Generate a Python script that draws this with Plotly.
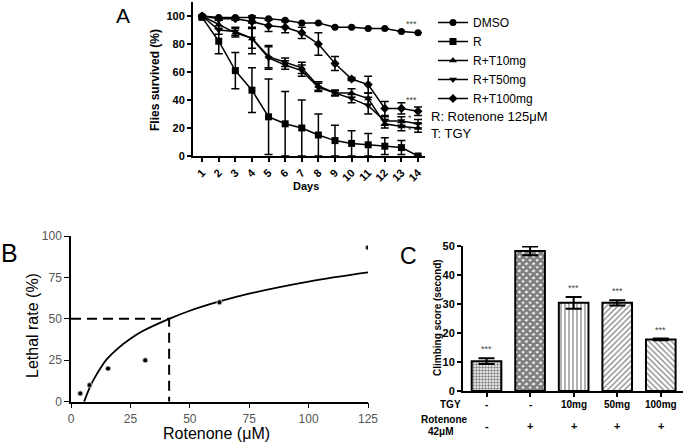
import plotly.graph_objects as go

W, H = 685, 443
def PX(x): return x / W
def PY(y): return 1 - y / H

FONT = "Arial, Liberation Sans, sans-serif"

# ---------------- Panel A data ----------------
days = list(range(1, 15))
dmso = [100, 99, 99, 99, 98, 97, 95, 95, 92, 92, 91, 91, 89, 88]
dmso_err = [0, 0, 0, 0, 0, 0, 0, 0, 0, 0, 0, 0, 0, 0]
r_only = [99, 82, 61, 47, 28, 23, 20, 15, 11, 9, 8, 7, 6, 0]
r_only_err = [1, 9, 13, 16, 27, 23, 20, 15, 11, 9, 8, 6, 5, 0]
r_t10 = [100, 94, 88, 84, 71, 67, 63, 50, 45, 45, 41, 23, 21, 20]
r_t10_err = [0, 3, 3, 7, 8, 3, 4, 3, 2, 3, 4, 3, 3, 3]
r_t50 = [100, 90, 89, 84, 70, 65, 61, 49, 45, 41, 36, 25, 25, 23]
r_t50_err = [0, 3, 3, 11, 8, 3, 4, 3, 2, 3, 6, 3, 3, 3]
r_t100 = [100, 98, 98, 96, 93, 92, 88, 80, 66, 55, 51, 34, 34, 32]
r_t100_err = [0, 1, 1, 4, 4, 4, 4, 8, 5, 1, 6, 5, 4, 3]
series_names = ["DMSO", "R", "R+T10mg", "R+T50mg", "R+T100mg"]
series_symbols = ["circle", "square", "triangle-up", "triangle-down", "diamond"]
sig_a_labels = ["***", "***", "*", "*"]
sig_a_y = [94, 40, 27, 18.5]
sig_a_x = [13.6, 13.6, 13.5, 13.5]

# ---------------- Panel B data ----------------
conc = [3.9, 7.8, 15.6, 31.25, 62.5, 125]
lethal = [5, 10, 20, 25, 60, 93]
fit_x = [5.5, 7, 8, 10, 12.5, 15, 20, 25, 30, 41.3, 50, 62.5, 75, 100, 125]
fit_y = [0, 5.5, 9, 14.5, 20.5, 25.5, 32.5, 38, 42.5, 50, 54.9, 60.5, 65.2, 72.5, 78]
ic50_x = 41.3
ic50_y = 50

# ---------------- Panel C data ----------------
bar_pos = [0, 1, 2, 3, 4]
climb = [10.3, 48.3, 30.4, 30.4, 17.8]
climb_err = [1.0, 1.5, 2.0, 0.9, 0.3]
tgy_labels = ["-", "-", "10mg", "50mg", "100mg"]
rot_labels = ["-", "+", "+", "+", "+"]
sig_c = ["***", "", "***", "***", "***"]
patterns = [".", "x", "|", "/", "\\"]

fig = go.Figure()

series = [(dmso, dmso_err), (r_only, r_only_err), (r_t10, r_t10_err),
          (r_t50, r_t50_err), (r_t100, r_t100_err)]
for (vals, errs), name, sym in zip(series, series_names, series_symbols):
    fig.add_trace(go.Scatter(
        x=days, y=vals, name=name, mode="lines+markers",
        line=dict(color="black", width=1.5),
        marker=dict(symbol=sym, size=7, color="black"),
        error_y=dict(type="data", array=errs, visible=True, color="black",
                     thickness=1.5, width=4),
        xaxis="x", yaxis="y", showlegend=True))

# Panel B
fig.add_trace(go.Scatter(x=fit_x, y=fit_y, mode="lines", line=dict(color="black", width=1.8, shape="spline"),
                         xaxis="x2", yaxis="y2", showlegend=False))
fig.add_trace(go.Scatter(x=[0, ic50_x, ic50_x], y=[ic50_y, ic50_y, 0], mode="lines",
                         line=dict(color="black", width=2, dash="10px,6px"),
                         xaxis="x2", yaxis="y2", showlegend=False))
fig.add_trace(go.Scatter(x=conc, y=lethal, mode="markers",
                         marker=dict(color="black", size=5, line=dict(color="#bbbbbb", width=1)),
                         xaxis="x2", yaxis="y2", showlegend=False))

# Panel C
fig.add_trace(go.Bar(
    x=bar_pos, y=climb, width=0.68,
    marker=dict(color="white", line=dict(color="black", width=2),
                pattern=dict(shape=patterns, fgcolor="black", bgcolor="white",
                             size=[3, 5, 4, 4, 4], solidity=[0.5, 0.8, 0.3, 0.3, 0.3])),
    error_y=dict(type="data", array=climb_err, visible=True, color="black", thickness=2, width=8),
    xaxis="x3", yaxis="y3", showlegend=False))

ann = []
def A(**kw):
    d = dict(showarrow=False, xanchor="center", yanchor="middle",
             font=dict(family=FONT, size=12, color="black"))
    d.update(kw)
    ann.append(d)

# Panel letters
A(text="A", x=PX(123), y=PY(15), xref="paper", yref="paper", font=dict(family=FONT, size=21))
A(text="B", x=PX(9), y=PY(253), xref="paper", yref="paper", font=dict(family=FONT, size=25))
A(text="C", x=PX(408), y=PY(256), xref="paper", yref="paper", font=dict(family=FONT, size=23))

# Panel A titles
A(text="<b>Flies survived (%)</b>", x=PX(155), y=PY(80), xref="paper", yref="paper", textangle=-90,
  font=dict(family=FONT, size=12))
A(text="<b>Days</b>", x=PX(306), y=PY(186), xref="paper", yref="paper", font=dict(family=FONT, size=11))
A(text="R: Rotenone 125μM", x=PX(429), y=PY(116), xref="paper", yref="paper", xanchor="left",
  font=dict(family=FONT, size=13))
A(text="T: TGY", x=PX(429), y=PY(133), xref="paper", yref="paper", xanchor="left",
  font=dict(family=FONT, size=13))
for lab, xx, yy in zip(sig_a_labels, sig_a_x, sig_a_y):
    A(text=lab, x=xx, y=yy, xref="x", yref="y", font=dict(family=FONT, size=9, color="#444"))

# Panel B titles
A(text="Lethal rate (%)", x=PX(32), y=PY(325), xref="paper", yref="paper", textangle=-90,
  font=dict(family=FONT, size=16))
A(text="Rotenone (μM)", x=PX(216), y=PY(433), xref="paper", yref="paper", font=dict(family=FONT, size=16))

# Panel C titles and table
A(text="<b>Climbing score (second)</b>", x=PX(437), y=PY(318), xref="paper", yref="paper", textangle=-90,
  font=dict(family=FONT, size=10))
A(text="<b>TGY</b>", x=PX(450), y=PY(404), xref="paper", yref="paper", font=dict(family=FONT, size=10))
A(text="<b>Rotenone</b>", x=PX(444), y=PY(419), xref="paper", yref="paper", font=dict(family=FONT, size=10))
A(text="<b>42μM</b>", x=PX(441), y=PY(431.5), xref="paper", yref="paper", font=dict(family=FONT, size=10))
for p, t, r, s, v, e in zip(bar_pos, tgy_labels, rot_labels, sig_c, climb, climb_err):
    A(text="<b>" + t + "</b>", x=p, y=PY(404), xref="x3", yref="paper", font=dict(family=FONT, size=10))
    A(text="<b>" + r + "</b>", x=p, y=PY(425.5), xref="x3", yref="paper", font=dict(family=FONT, size=11))
    if s:
        A(text=s, x=p, y=v + e, xref="x3", yref="y3", yanchor="bottom", yshift=2,
          font=dict(family=FONT, size=9, color="#444"))

bold_tick = dict(family=FONT, size=11, color="black")
common = dict(showgrid=False, zeroline=False, automargin=False, showline=True, linecolor="black",
              ticks="outside", tickcolor="black")

fig.update_layout(
    width=W, height=H, margin=dict(l=0, r=0, t=0, b=0, autoexpand=False),
    paper_bgcolor="white", plot_bgcolor="white",
    font=dict(family=FONT, color="black"),
    annotations=ann,
    legend=dict(x=PX(433), y=PY(8), xanchor="left", yanchor="top",
                font=dict(family=FONT, size=12, color="black"), bgcolor="rgba(0,0,0,0)",
                tracegroupgap=0, itemwidth=30),
    xaxis=dict(domain=[PX(193), PX(425)], range=[0.45, 14.42], tickvals=days,
               ticktext=["<b>%d</b>" % d for d in days], tickangle=-45,
               linewidth=2, ticklen=4, tickwidth=2,
               tickfont=bold_tick, anchor="y", **common),
    yaxis=dict(domain=[PY(156), PY(2)], range=[0, 110], tickvals=[0, 20, 40, 60, 80, 100],
               ticktext=["<b>%d</b>" % v for v in [0, 20, 40, 60, 80, 100]],
               linewidth=2, ticklen=4, tickwidth=2,
               tickfont=bold_tick, anchor="x", **common),
    xaxis2=dict(domain=[PX(71), PX(368)], range=[0, 125], tickvals=[0, 25, 50, 75, 100, 125],
                linewidth=1.5, ticklen=5,
                tickfont=dict(family=FONT, size=12, color="#555"), anchor="y2", **common),
    yaxis2=dict(domain=[PY(401.7), PY(236)], range=[0, 100], tickvals=[0, 25, 50, 75, 100],
                linewidth=1.5, ticklen=5,
                tickfont=dict(family=FONT, size=12, color="#555"), anchor="x2", **common),
    xaxis3=dict(domain=[PX(463), PX(683)], range=[-0.54, 4.51], tickvals=bar_pos, showticklabels=False,
                linewidth=2, ticklen=4, tickwidth=2, anchor="y3", **common),
    yaxis3=dict(domain=[PY(391), PY(246)], range=[0, 50], tickvals=[0, 10, 20, 30, 40, 50],
                ticktext=["<b>%d</b>" % v for v in [0, 10, 20, 30, 40, 50]],
                linewidth=2, ticklen=4, tickwidth=2,
                tickfont=bold_tick, anchor="x3", **common),
)

fig.write_html("out.html", config={"displayModeBar": False},
               post_script="document.body.style.margin='0';document.body.style.overflow='hidden';")
